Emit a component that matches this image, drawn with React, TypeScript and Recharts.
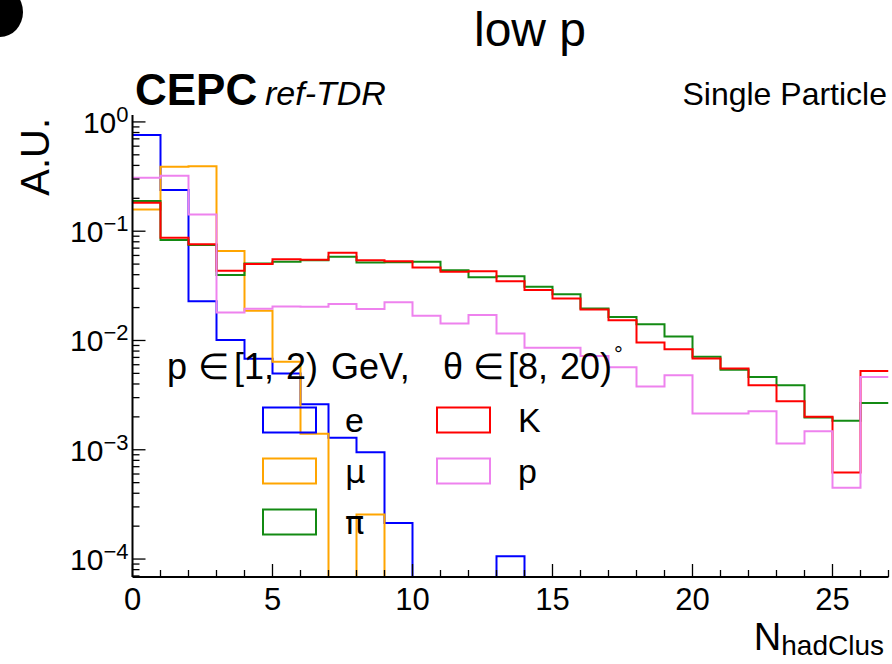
import React from 'react';
import { LineChart, Line, XAxis, YAxis, Legend } from 'recharts';

// Bin edges of N_hadClus (bins 0..26, last edge 27)
const BIN_EDGES = [0, 1, 2, 3, 4, 5, 6, 7, 8, 9, 10, 11, 12, 13, 14, 15, 16, 17, 18, 19, 20, 21, 22, 23, 24, 25, 26, 27];

// Normalised bin contents (A.U.), one value per bin 0..26
const E_VALUES = [0.76, 0.238, 0.0229, 0.0101, 0.0068, 0.005, 0.00261, 0.00129, 0.00095, 0.000214, 0, 0, 0, 0.000106, 0, 0, 0, 0, 0, 0, 0, 0, 0, 0, 0, 0, 0];
const MU_VALUES = [0.158, 0.389, 0.394, 0.066, 0.0187, 0.0064, 0.0014, 0, 0.000255, 0, 0, 0, 0, 0, 0, 0, 0, 0, 0, 0, 0, 0, 0, 0, 0, 0, 0];
const PI_VALUES = [0.189, 0.083, 0.0746, 0.0397, 0.0507, 0.0525, 0.0543, 0.0583, 0.0518, 0.052, 0.0525, 0.044, 0.0378, 0.0388, 0.031, 0.0265, 0.0196, 0.0164, 0.0141, 0.0109, 0.0071, 0.0054, 0.00464, 0.0039, 0.00197, 0.00184, 0.00268];
const K_VALUES = [0.182, 0.087, 0.076, 0.0434, 0.05, 0.0555, 0.0547, 0.0634, 0.0543, 0.053, 0.0466, 0.0425, 0.0431, 0.0349, 0.0289, 0.0242, 0.0192, 0.0153, 0.0096, 0.0083, 0.00684, 0.00554, 0.0039, 0.00278, 0.002, 0.000618, 0.00527];
const P_VALUES = [0.309, 0.321, 0.1425, 0.018, 0.0195, 0.0205, 0.0204, 0.0216, 0.0194, 0.0224, 0.0168, 0.0143, 0.0171, 0.0116, 0.0086, 0.0086, 0.0072, 0.0057, 0.0038, 0.0048, 0.00215, 0.00215, 0.00225, 0.00114, 0.00148, 0.00045, 0.00464];

const SERIES_NAMES = ['e', 'μ', 'π', 'K', 'p'];
const SERIES_KEYS = ['e', 'mu', 'pi', 'k', 'p'];
const SERIES_COLORS = ['#0000ff', '#ffa500', '#138a13', '#ff0000', '#ee82ee'];

const X_MAJOR_TICKS = [0, 5, 10, 15, 20, 25];
const X_TICK_LABELS = ['0', '5', '10', '15', '20', '25'];
const Y_MAJOR_TICKS = [1e-4, 1e-3, 1e-2, 1e-1, 1];
const Y_TICK_EXPONENTS = ['−4', '−3', '−2', '−1', '0'];
const Y_MINOR_MULTIPLIERS = [2, 3, 4, 5, 6, 7, 8, 9];

// Annotation pieces: "p ∈ [1, 2) GeV, θ ∈ [8, 20)°"
const NOTE_PIECES = ['p', '∈', '[1,', '2)', 'GeV,', 'θ', '∈', '[8,', '20)'];
const NOTE_X = [167, 198, 234, 286, 331, 443, 473, 508, 560];

const X_MIN = 0;
const X_MAX = 27;
const Y_MIN = 6.85e-5;
const Y_MAX = 1.157;
const FLOOR = 1e-8; // empty bins drawn below the axis (clipped)

const FONT = '"Liberation Sans", Arial, Helvetica, sans-serif';
const GREEK_FONT = '"DejaVu Sans", "Liberation Sans", sans-serif';

const seriesArrays = [E_VALUES, MU_VALUES, PI_VALUES, K_VALUES, P_VALUES];
const data = BIN_EDGES.map((edge) => {
  const row: any = { x: edge };
  const bin = Math.min(edge, E_VALUES.length - 1);
  SERIES_KEYS.forEach((key, i) => {
    const v = seriesArrays[i][bin];
    row[key] = v > 0 ? v : FLOOR;
  });
  return row;
});

const yTicks: number[] = [];
[1e-5, 1e-4, 1e-3, 1e-2, 1e-1, 1].forEach((d) => {
  [1, ...Y_MINOR_MULTIPLIERS].forEach((m) => {
    const v = m * d;
    if (v >= Y_MIN && v <= Y_MAX) yTicks.push(v);
  });
});
const xTicks = BIN_EDGES.filter((v) => v >= X_MIN && v <= X_MAX);

const majorYIndex = (v: number) => Y_MAJOR_TICKS.findIndex((t) => Math.abs(t - v) / t < 1e-6);

const YTickLeft = (props: any) => {
  const { x, y, payload } = props;
  const idx = majorYIndex(payload.value);
  const major = idx >= 0;
  return (
    <g>
      <line x1={x} x2={x + (major ? 13 : 7)} y1={y} y2={y} stroke="#000" strokeWidth={1.3} />
      {major && (
        <text x={x - 4} y={y + 11} textAnchor="end" fontSize={30} fontFamily={FONT} fill="#000">
          10
          <tspan dy={-11} fontSize={22}>{Y_TICK_EXPONENTS[idx]}</tspan>
        </text>
      )}
    </g>
  );
};

const YTickRight = (props: any) => {
  const { x, y, payload } = props;
  const major = majorYIndex(payload.value) >= 0;
  return <line x1={x} x2={x - (major ? 13 : 7)} y1={y} y2={y} stroke="#000" strokeWidth={1.3} />;
};

const XTickBottom = (props: any) => {
  const { x, y, payload } = props;
  const idx = X_MAJOR_TICKS.indexOf(payload.value);
  const major = idx >= 0;
  return (
    <g>
      <line x1={x} x2={x} y1={y} y2={y - (major ? 13 : 7)} stroke="#000" strokeWidth={1.3} />
      {major && (
        <text x={x} y={y + 33} textAnchor="middle" fontSize={31} fontFamily={FONT} fill="#000">
          {X_TICK_LABELS[idx]}
        </text>
      )}
    </g>
  );
};

const XTickTop = (props: any) => {
  const { x, y, payload } = props;
  const major = X_MAJOR_TICKS.indexOf(payload.value) >= 0;
  return <line x1={x} x2={x} y1={y} y2={y + (major ? 13 : 7)} stroke="#000" strokeWidth={1.3} />;
};

const LEGEND_LEFT = 255;
const LEGEND_TOP = 400;

const renderLegend = (props: any) => {
  const payload: any[] = props.payload || [];
  const ordered = SERIES_NAMES.map((n) => payload.find((p) => p.value === n)).filter(Boolean);
  return (
    <svg width={320} height={145} style={{ display: 'block', overflow: 'visible' }}>
      {ordered.map((entry: any, i: number) => {
        const col = Math.floor(i / 3);
        const row = i % 3;
        const bx = col === 0 ? 8 : 182;
        const cy = 20 + row * 51;
        const tx = col === 0 ? 90 : 263;
        const greek = entry.value === 'π' || entry.value === 'μ';
        return (
          <g key={entry.value}>
            <rect x={bx} y={cy - 12.5} width={53} height={25} fill="none" stroke={entry.color} strokeWidth={2} />
            <text x={tx} y={cy + 12} fontSize={greek ? 32 : 34} fontFamily={greek ? GREEK_FONT : FONT} fill="#000">{entry.value}</text>
          </g>
        );
      })}
    </svg>
  );
};

export default function App() {
  return (
    <div style={{ position: 'absolute', left: 0, top: 0, width: 892, height: 664, background: '#fff' }}>
      <LineChart
        width={892}
        height={664}
        data={data}
        margin={{ top: 115, right: 3.5, bottom: 0, left: 0 }}
      >
        <XAxis
          xAxisId="b"
          dataKey="x"
          type="number"
          domain={[X_MIN, X_MAX]}
          allowDataOverflow
          ticks={xTicks}
          interval={0}
          tickSize={0}
          tickMargin={0}
          tickLine={false}
          tick={XTickBottom}
          axisLine={{ stroke: '#000', strokeWidth: 2 }}
          height={87}
          orientation="bottom"
        />
        <XAxis
          xAxisId="t"
          dataKey="x"
          type="number"
          domain={[X_MIN, X_MAX]}
          allowDataOverflow
          ticks={xTicks}
          interval={0}
          tickSize={0}
          tickMargin={0}
          tickLine={false}
          tick={XTickTop}
          axisLine={{ stroke: '#000', strokeWidth: 2 }}
          height={0}
          orientation="top"
        />
        <YAxis
          yAxisId="l"
          type="number"
          scale="log"
          domain={[Y_MIN, Y_MAX]}
          allowDataOverflow
          ticks={yTicks}
          interval={0}
          tickSize={0}
          tickMargin={0}
          tickLine={false}
          tick={YTickLeft}
          axisLine={{ stroke: '#000', strokeWidth: 2 }}
          width={132.5}
          orientation="left"
        />
        <YAxis
          yAxisId="r"
          type="number"
          scale="log"
          domain={[Y_MIN, Y_MAX]}
          allowDataOverflow
          ticks={yTicks}
          interval={0}
          tickSize={0}
          tickMargin={0}
          tickLine={false}
          tick={YTickRight}
          axisLine={{ stroke: '#000', strokeWidth: 2 }}
          width={0}
          orientation="right"
        />
        {SERIES_KEYS.map((key, i) => (
          <Line
            key={key}
            xAxisId={i === 0 ? 't' : 'b'}
            yAxisId={i === 0 ? 'r' : 'l'}
            type="stepAfter"
            dataKey={key}
            name={SERIES_NAMES[i]}
            stroke={SERIES_COLORS[i]}
            strokeWidth={2}
            dot={false}
            activeDot={false}
            isAnimationActive={false}
          />
        ))}
        <Legend
          layout="horizontal"
          verticalAlign="middle"
          align="center"
          content={renderLegend}
          wrapperStyle={{ left: LEGEND_LEFT, top: LEGEND_TOP, width: 320, height: 145 }}
        />
      </LineChart>
      <svg
        width={892}
        height={664}
        style={{ position: 'absolute', left: 0, top: 0, pointerEvents: 'none' }}
      >
        <ellipse cx={0} cy={12} rx={23} ry={25} fill="#000" />
        <text x={530} y={46} textAnchor="middle" fontSize={48} fontFamily={FONT} fill="#000">low p</text>
        <text x={135} y={105} fontSize={44} fontWeight="bold" fontFamily={FONT} fill="#000">CEPC</text>
        <text x={265} y={105} fontSize={34} fontStyle="italic" fontFamily={FONT} fill="#000">ref-TDR</text>
        <text x={887} y={105} textAnchor="end" fontSize={32} fontFamily={FONT} fill="#000">Single Particle</text>
        <text transform="translate(49,118) rotate(-90)" textAnchor="end" fontSize={40} fontFamily={FONT} fill="#000">A.U.</text>
        <text x={884} y={650} textAnchor="end" fontSize={38} fontFamily={FONT} fill="#000">
          N<tspan dy={5} fontSize={28}>hadClus</tspan>
        </text>
        <text y={379} fontSize={36} fontFamily={FONT} fill="#000">
          {NOTE_PIECES.map((s, i) => (
            <tspan key={i} x={NOTE_X[i]}>{s}</tspan>
          ))}
        </text>
        <text x={614} y={362} fontSize={22} fontFamily={FONT} fill="#000">°</text>
      </svg>
    </div>
  );
}
